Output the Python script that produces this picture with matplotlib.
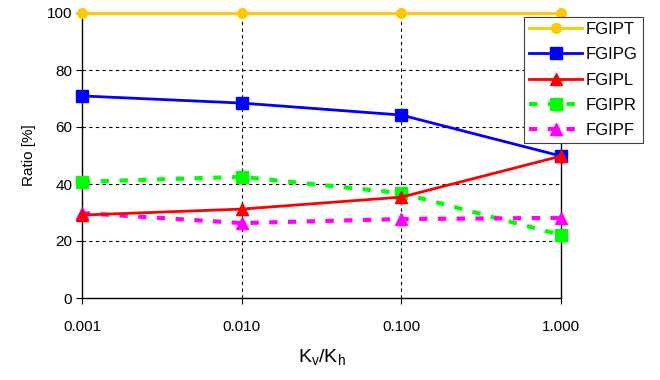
import matplotlib
matplotlib.use("Agg")
import matplotlib.pyplot as plt

plt.rcParams['font.family'] = ['Liberation Sans', 'DejaVu Sans']

# data
kv_kh = [0.001, 0.01, 0.1, 1.0]
x_labels = ["0.001", "0.010", "0.100", "1.000"]
fgipt = [100, 100, 100, 100]
fgipg = [70.9, 68.4, 64.2, 49.8]
fgipl = [29.1, 31.2, 35.4, 49.8]
fgipr = [40.8, 42.5, 36.8, 22.1]
fgipf = [29.8, 26.3, 27.7, 28.1]

fig = plt.figure(figsize=(6.6, 3.8), dpi=100)
ax = fig.add_axes([82/660, 1 - 298/380, (561 - 82)/660, (298 - 13)/380])

ax.plot(kv_kh, fgipt, color='#FFC800', lw=2, marker='o', ms=7, label='FGIPT', clip_on=False, zorder=5)
ax.plot(kv_kh, fgipg, color='#0000FF', lw=2, marker='s', ms=8, label='FGIPG', clip_on=False, zorder=5)
ax.plot(kv_kh, fgipl, color='#FF0000', lw=2, marker='^', ms=9, label='FGIPL', clip_on=False, zorder=6)
ax.plot(kv_kh, fgipr, color='#00FF00', lw=3, ls=(0, (2, 2.5)), marker='s', ms=8, label='FGIPR', clip_on=False, zorder=4)
ax.plot(kv_kh, fgipf, color='#FF00FF', lw=3, ls=(0, (2, 2.5)), marker='^', ms=9, label='FGIPF', clip_on=False, zorder=4)

ax.set_xscale('log')
ax.set_xlim(0.001, 1.0)
ax.set_ylim(0, 100)
ax.set_xticks(kv_kh)
ax.set_xticklabels(x_labels)
ax.minorticks_off()
ax.set_yticks([0, 20, 40, 60, 80, 100])

# grid: dashed inner lines
for y in [20, 40, 60, 80]:
    ax.axhline(y, color='black', lw=0.8, ls=(0, (3, 3)), zorder=1)
for x in [0.01, 0.1]:
    ax.axvline(x, color='black', lw=0.8, ls=(0, (3, 3)), zorder=1)

ax.spines['top'].set_visible(False)
ax.spines['right'].set_linewidth(1.0)
ax.spines['left'].set_linewidth(1.0)
ax.spines['bottom'].set_linewidth(1.0)
ax.tick_params(direction='out', length=4, width=0.8, labelsize=11, pad=12)
ax.tick_params(axis='y', pad=3)

ax.set_ylabel('Ratio [%]', fontsize=11, labelpad=8)
ax.set_xlabel('K$_\\mathregular{v}$/K$_\\mathregular{h}$', fontsize=14, labelpad=10)

leg = ax.legend(loc='upper left', bbox_to_anchor=(524/660, 1 - 17/380),
                bbox_transform=fig.transFigure, fontsize=12, frameon=True,
                fancybox=False, edgecolor='#404040', framealpha=1,
                borderpad=0.3, labelspacing=0.62, handlelength=3.2,
                handletextpad=0.2, borderaxespad=0)
leg.get_frame().set_linewidth(0.8)

fig.savefig('out.png', dpi=100)
